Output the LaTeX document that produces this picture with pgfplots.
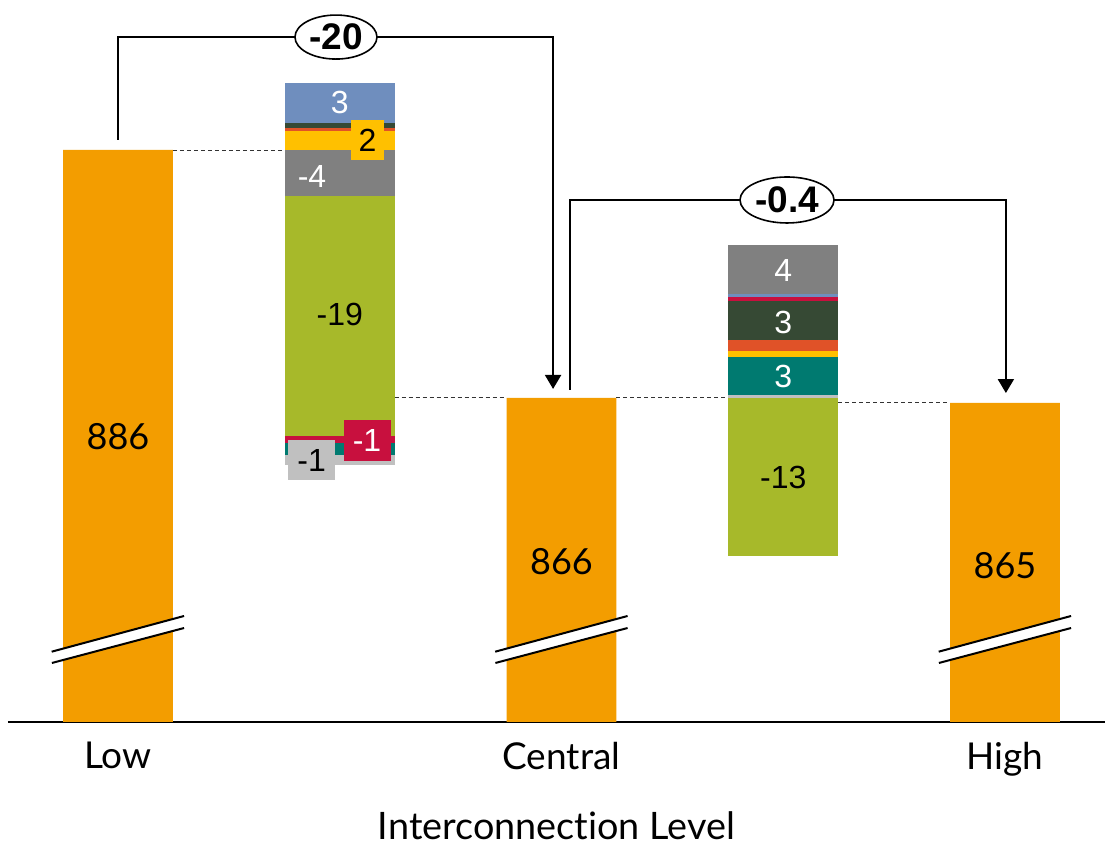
\documentclass[border=0pt]{standalone}
\usepackage{pgfplots}
\pgfplotsset{compat=1.18}
\usepackage{pgfplotstable}
\usepackage{fontspec}
\setmainfont{Lato}[Ligatures={NoCommon}]
\newfontfamily\arial{Liberation Sans}
\usetikzlibrary{arrows.meta,shapes.geometric}

\definecolor{cOrange}{RGB}{243,157,0}
\definecolor{cBlue}{RGB}{111,142,190}
\definecolor{cDkGreen}{RGB}{54,73,52}
\definecolor{cRed}{RGB}{224,82,40}
\definecolor{cYellow}{RGB}{255,192,0}
\definecolor{cGray}{RGB}{128,128,128}
\definecolor{cGreen}{RGB}{167,185,42}
\definecolor{cCrimson}{RGB}{200,16,62}
\definecolor{cTeal}{RGB}{0,122,112}
\definecolor{cLGray}{RGB}{192,192,192}

% waterfall: main bars, invisible base, segments of delta 1 (p) and delta 2 (q), bottom to top
\pgfplotstableread{
x main  base   p1  p2  p3  p4   p5  p6  p7  p8  p9  q1    q2  q3  q4  q5  q6  q7  q8   q9
0 886   0      0   0   0   0    0   0   0   0   0   0     0   0   0   0   0   0   0    0
1 0     860.6  0.8 1.0 0.5 19.4 3.7 1.5 0.3 0.4 3.2 0     0   0   0   0   0   0   0    0
2 866   0      0   0   0   0    0   0   0   0   0   0     0   0   0   0   0   0   0    0
3 0     853.25 0   0   0   0    0   0   0   0   0   12.75 0.2 3.1 0.5 0.9 3.1 0.3 0.25 4.0
4 865.6 0      0   0   0   0    0   0   0   0   0   0     0   0   0   0   0   0   0    0
}\wf

\tikzset{seglab/.style={font=\arial\fontsize{16}{18}\selectfont},
  dsh/.style={line width=0.5pt, dash pattern=on 2pt off 1.5pt, black!80},
  oval/.style={draw, line width=0.8pt, fill=white, ellipse, inner sep=0pt, font=\arial\bfseries\fontsize{18.5}{20}\selectfont}}

\begin{document}
\begin{tikzpicture}
\begin{axis}[
  scale only axis, width=548.5pt, height=361pt,
  xmin=-0.496, xmax=4.451, ymin=839.87, ymax=898.1,
  axis x line=bottom, axis y line=none,
  axis line style={-, line width=0.8pt, black},
  ybar stacked, bar width=0.4955,
  xtick={0,2,4}, xticklabels={Low,Central,High},
  major tick length=0pt, ytick=\empty,
  xticklabel style={font=\fontsize{18.5}{21}\selectfont, yshift=-6.5pt},
  xlabel={Interconnection Level},
  xlabel style={font=\fontsize{18.9}{21}\selectfont, inner sep=0pt, at={(axis description cs:0.5,0)}, anchor=center, yshift=-52pt},
  every axis plot/.append style={draw=none},
]
\addplot[fill=cOrange] table[x=x,y=main]{\wf};
\addplot[fill=none] table[x=x,y=base]{\wf};
\addplot[fill=cLGray] table[x=x,y=p1]{\wf};
\addplot[fill=cTeal] table[x=x,y=p2]{\wf};
\addplot[fill=cCrimson] table[x=x,y=p3]{\wf};
\addplot[fill=cGreen] table[x=x,y=p4]{\wf};
\addplot[fill=cGray] table[x=x,y=p5]{\wf};
\addplot[fill=cYellow] table[x=x,y=p6]{\wf};
\addplot[fill=cRed] table[x=x,y=p7]{\wf};
\addplot[fill=cDkGreen] table[x=x,y=p8]{\wf};
\addplot[fill=cBlue] table[x=x,y=p9]{\wf};
\addplot[fill=cGreen] table[x=x,y=q1]{\wf};
\addplot[fill=cLGray] table[x=x,y=q2]{\wf};
\addplot[fill=cTeal] table[x=x,y=q3]{\wf};
\addplot[fill=cYellow] table[x=x,y=q4]{\wf};
\addplot[fill=cRed] table[x=x,y=q5]{\wf};
\addplot[fill=cDkGreen] table[x=x,y=q6]{\wf};
\addplot[fill=cCrimson] table[x=x,y=q7]{\wf};
\addplot[fill=cBlue] table[x=x,y=q8]{\wf};
\addplot[fill=cGray] table[x=x,y=q9]{\wf};

% anchor points for the annotations drawn above the bars
\coordinate (c1a) at (axis cs:0.2477,886);   \coordinate (c1b) at (axis cs:0.7523,886);
\coordinate (c2a) at (axis cs:1.2477,866);   \coordinate (c2b) at (axis cs:1.7523,866);
\coordinate (c3a) at (axis cs:2.2477,866);   \coordinate (c3b) at (axis cs:2.7523,866);
\coordinate (c4a) at (axis cs:3.2477,865.6); \coordinate (c4b) at (axis cs:3.7523,865.6);
\coordinate (bA0) at (axis cs:-0.299,845.54); \coordinate (bB0) at (axis cs:0.298,848.42);
\coordinate (bC0) at (axis cs:0.298,847.45);  \coordinate (bD0) at (axis cs:-0.298,844.63);
\coordinate (bA2) at (axis cs:1.701,845.54);  \coordinate (bB2) at (axis cs:2.298,848.42);
\coordinate (bC2) at (axis cs:2.298,847.45);  \coordinate (bD2) at (axis cs:1.702,844.63);
\coordinate (bA4) at (axis cs:3.701,845.54);  \coordinate (bB4) at (axis cs:4.298,848.42);
\coordinate (bC4) at (axis cs:4.298,847.45);  \coordinate (bD4) at (axis cs:3.702,844.63);
\coordinate (m0) at (axis cs:0,862.85);
\coordinate (m2) at (axis cs:2,852.77);
\coordinate (m4) at (axis cs:4,852.45);
\coordinate (s1) at (axis cs:1,889.87);
\coordinate (s2) at (axis cs:1.125,886.8);
\coordinate (s3) at (axis cs:0.875,883.9);
\coordinate (s4) at (axis cs:1,872.7);
\coordinate (s5) at (axis cs:1.123,862.6);
\coordinate (s6) at (axis cs:0.873,861.0);
\coordinate (t1) at (axis cs:3,876.3);
\coordinate (t2) at (axis cs:3,872.1);
\coordinate (t3) at (axis cs:3,867.7);
\coordinate (t4) at (axis cs:3,859.6);
\coordinate (k1a) at (axis cs:0,886.81); \coordinate (k1b) at (axis cs:1.962,895.11); \coordinate (k1c) at (axis cs:1.962,866.73);
\coordinate (e1) at (axis cs:0.983,895.11);
\coordinate (k2a) at (axis cs:2.038,866.65); \coordinate (k2b) at (axis cs:4.004,881.97); \coordinate (k2c) at (axis cs:4.004,866.4);
\coordinate (e2) at (axis cs:3.017,881.97);
\end{axis}

% dashed connectors
\draw[dsh] (c1a) -- (c1b);
\draw[dsh] (c2a) -- (c2b);
\draw[dsh] (c3a) -- (c3b);
\draw[dsh] (c4a) -- (c4b);

% axis breaks
\foreach \i in {0,2,4} {
  \fill[white] (bA\i) -- (bB\i) -- (bC\i) -- (bD\i) -- cycle;
  \draw[line width=1pt] (bA\i) -- (bB\i);
  \draw[line width=1pt] (bD\i) -- (bC\i);
}

% main bar labels
\node[font=\fontsize{18}{20}\selectfont] at (m0) {886};
\node[font=\fontsize{18}{20}\selectfont] at (m2) {866};
\node[font=\fontsize{18}{20}\selectfont] at (m4) {865};

% delta 1 labels
\node[seglab, text=white] at (s1) {3};
\node[seglab, fill=cYellow, minimum width=16.5pt, minimum height=20pt, inner sep=0pt] at (s2) {2};
\node[seglab, text=white] at (s3) {-4};
\node[seglab] at (s4) {-19};
\node[seglab, text=white, fill=cCrimson, minimum width=23.5pt, minimum height=20.5pt, inner sep=0pt] at (s5) {-1};
\node[seglab, fill=cLGray, minimum width=23.5pt, minimum height=20pt, inner sep=0pt] at (s6) {-1};

% delta 2 labels
\node[seglab, text=white] at (t1) {4};
\node[seglab, text=white] at (t2) {3};
\node[seglab, text=white] at (t3) {3};
\node[seglab] at (t4) {-13};

% brackets
\draw[line width=1pt, -{Triangle[width=8pt,length=7pt]}] (k1a) |- (k1b) -- (k1c);
\draw[line width=1pt, -{Triangle[width=8pt,length=7pt]}] (k2a) |- (k2b) -- (k2c);
\node[oval, minimum width=41pt, minimum height=22pt] at (e1) {-20};
\node[oval, minimum width=47pt, minimum height=23pt] at (e2) {-0.4};

\pgfresetboundingbox
\useasboundingbox ([xshift=-4pt,yshift=-60pt]current axis.south west) rectangle (current axis.north east);
\end{tikzpicture}
\end{document}
